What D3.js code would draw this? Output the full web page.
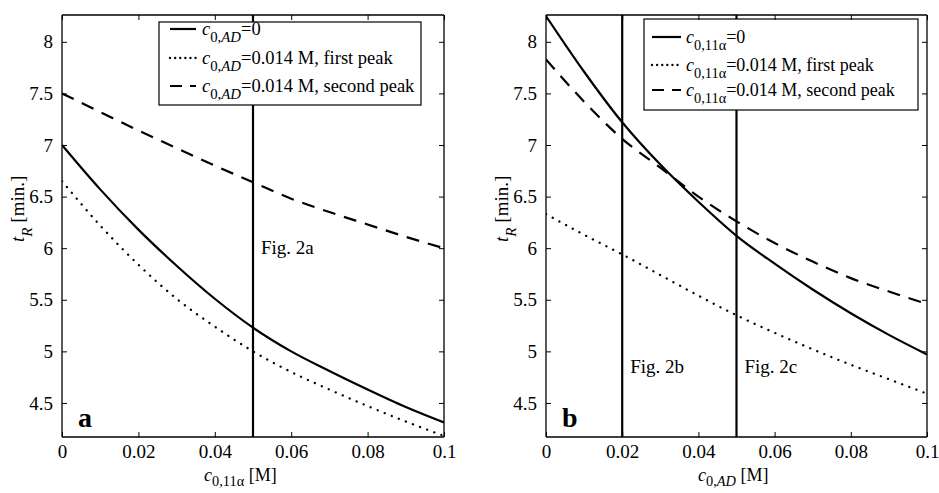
<!DOCTYPE html>
<html><head><meta charset="utf-8">
<script src="https://cdn.jsdelivr.net/npm/d3@7"></script>
<style>
body{margin:0;background:#fff}
text{font-family:"Liberation Serif","Times New Roman",serif;fill:#000}
</style>
</head><body>
<svg id="c" width="939" height="493"></svg>
<script>
// ---- data ----
const xValues = [0, 0.01, 0.02, 0.03, 0.04, 0.05, 0.06, 0.07, 0.08, 0.09, 0.1];
// panel a: x = c0,11alpha
const aSolid  = [7.00, 6.57, 6.18, 5.83, 5.51, 5.23, 5.00, 4.81, 4.63, 4.46, 4.31];
const aDotted = [6.65, 6.22, 5.84, 5.51, 5.24, 5.00, 4.80, 4.63, 4.47, 4.32, 4.18];
const aDashed = [7.50, 7.32, 7.14, 6.97, 6.80, 6.64, 6.48, 6.35, 6.23, 6.11, 6.00];
// panel b: x = c0,AD
const bSolid  = [8.25, 7.71, 7.22, 6.81, 6.45, 6.12, 5.85, 5.60, 5.37, 5.16, 4.97];
const bDotted = [6.33, 6.13, 5.94, 5.74, 5.54, 5.35, 5.18, 5.02, 4.87, 4.73, 4.59];
const bDashed = [7.83, 7.42, 7.06, 6.78, 6.50, 6.26, 6.05, 5.87, 5.71, 5.58, 5.46];
const aMarkers = [0.05];
const bMarkers = [0.02, 0.05];
const aMarkerLabels = ["Fig. 2a"];
const bMarkerLabels = ["Fig. 2b", "Fig. 2c"];
const xTicks = [0, 0.02, 0.04, 0.06, 0.08, 0.1];
const xTickLabels = ["0", "0.02", "0.04", "0.06", "0.08", "0.1"];
const yTicks = [4.5, 5, 5.5, 6, 6.5, 7, 7.5, 8];
const yTickLabels = ["4.5", "5", "5.5", "6", "6.5", "7", "7.5", "8"];
const xDomain = [0, 0.1];
const yDomain = [4.17, 8.26];
const aLegend = ["=0", "=0.014 M, first peak", "=0.014 M, second peak"];
const bLegend = ["=0", "=0.014 M, first peak", "=0.014 M, second peak"];

// ---- drawing ----
const svg = d3.select("#c");
const subA = [{t:"c", i:true}, {t:"0,", sub:true}, {t:"AD", sub:true, i:true}];
const subB = [{t:"c", i:true}, {t:"0,11α", sub:true}];

function rich(sel, parts, fs, drop) {
  drop = drop || 0.4;
  let inSub = false;
  parts.forEach(p => {
    const ts = sel.append("tspan").text(p.t);
    if (p.i) ts.attr("font-style", "italic");
    if (p.sub) {
      ts.attr("font-size", fs * 0.8);
      if (!inSub) { ts.attr("dy", fs * drop); inSub = true; }
    } else if (inSub) {
      ts.attr("dy", -fs * drop); inSub = false;
    }
  });
}

const styles = [
  {dash: null, w: 2.2, cap: "butt"},
  {dash: "0.1,7.5", w: 2.3, cap: "round"},
  {dash: "13,9", w: 2.2, cap: "butt"}
];
const legDash = [null, "0.1,5", "12,8"];

const panels = [
  {x0: 62, x1: 444, series: [aSolid, aDotted, aDashed], markers: aMarkers, mlabels: aMarkerLabels,
   mlabelY: [5.94], letter: "a", legend: aLegend, legSub: subA, xlabSub: subB,
   leg: {x: 159, y: 22, w: 262, h: 83, lx0: 170, lx1: 196, tx: 202, rows: [35, 64, 92], fs: 18.5},
   ylabX: 24, xlabX: 204},
  {x0: 546, x1: 927, series: [bSolid, bDotted, bDashed], markers: bMarkers, mlabels: bMarkerLabels,
   mlabelY: [4.79, 4.79], letter: "b", legend: bLegend, legSub: subB, xlabSub: subA,
   leg: {x: 644, y: 19, w: 274, h: 91, lx0: 652, lx1: 681, tx: 686, rows: [43, 71, 96], fs: 18},
   ylabX: 508, xlabX: 698}
];

const plotTop = 15, plotBottom = 437;

panels.forEach((p, pi) => {
  const x = d3.scaleLinear().domain(xDomain).range([p.x0, p.x1]);
  const y = d3.scaleLinear().domain(yDomain).range([plotBottom, plotTop]);
  const g = svg.append("g");
  const cid = "clip" + pi;
  g.append("clipPath").attr("id", cid).append("rect")
    .attr("x", p.x0).attr("y", plotTop).attr("width", p.x1 - p.x0).attr("height", plotBottom - plotTop);

  const line = d3.line().x((d, i) => x(xValues[i])).y(d => y(d)).curve(d3.curveMonotoneX);
  const cg = g.append("g").attr("clip-path", `url(#${cid})`);
  p.series.forEach((s, si) => {
    cg.append("path").attr("d", line(s)).attr("fill", "none").attr("stroke", "#000")
      .attr("stroke-width", styles[si].w)
      .attr("stroke-dasharray", styles[si].dash)
      .attr("stroke-linecap", styles[si].cap);
  });
  p.markers.forEach((m, mi) => {
    cg.append("line").attr("x1", x(m)).attr("x2", x(m)).attr("y1", y(yDomain[0])).attr("y2", y(yDomain[1]))
      .attr("stroke", "#000").attr("stroke-width", 2.2);
    g.append("text").attr("x", x(m) + 8).attr("y", y(p.mlabelY[mi])).attr("font-size", 19).text(p.mlabels[mi]);
  });

  // legend
  const L = p.leg;
  const lg = g.append("g");
  lg.append("rect").attr("x", L.x).attr("y", L.y).attr("width", L.w).attr("height", L.h)
    .attr("fill", "#fff").attr("stroke", "#000").attr("stroke-width", 1.2);
  p.legend.forEach((lab, li) => {
    const ly = L.rows[li] - 6;
    lg.append("line").attr("x1", L.lx0).attr("x2", L.lx1).attr("y1", ly).attr("y2", ly)
      .attr("stroke", "#000").attr("stroke-width", styles[li].w)
      .attr("stroke-dasharray", legDash[li])
      .attr("stroke-linecap", styles[li].cap);
    const t = lg.append("text").attr("x", L.tx).attr("y", L.rows[li]).attr("font-size", L.fs);
    rich(t, p.legSub.concat([{t: lab}]), L.fs);
  });

  // axes (inward ticks on all sides)
  const fmtX = d => xTickLabels[xTicks.indexOf(d)];
  const fmtY = d => yTickLabels[yTicks.indexOf(d)];
  const axB = g.append("g").attr("transform", `translate(0,${plotBottom})`)
    .call(d3.axisBottom(x).tickValues(xTicks).tickFormat(fmtX).tickSize(-5).tickPadding(8));
  const axT = g.append("g").attr("transform", `translate(0,${plotTop})`)
    .call(d3.axisTop(x).tickValues(xTicks).tickFormat("").tickSize(-5));
  const axL = g.append("g").attr("transform", `translate(${p.x0},0)`)
    .call(d3.axisLeft(y).tickValues(yTicks).tickFormat(fmtY).tickSize(-5).tickPadding(9));
  const axR = g.append("g").attr("transform", `translate(${p.x1},0)`)
    .call(d3.axisRight(y).tickValues(yTicks).tickFormat("").tickSize(-5));
  [axB, axT, axL, axR].forEach(a => {
    a.select(".domain").attr("stroke", "#000").attr("stroke-width", 1.3);
    a.selectAll(".tick line").attr("stroke", "#000").attr("stroke-width", 1);
    a.selectAll("text").attr("font-family", "Liberation Serif").attr("font-size", 19).attr("fill", "#000");
  });
  axB.select(".domain").attr("d", `M${p.x0},0H${p.x1}`);
  axT.select(".domain").attr("d", `M${p.x0},0H${p.x1}`);
  axL.select(".domain").attr("d", `M0,${plotTop}V${plotBottom}`);
  axR.select(".domain").attr("d", `M0,${plotTop}V${plotBottom}`);

  // panel letter
  g.append("text").attr("x", p.x0 + 16).attr("y", 427).attr("font-size", 28).attr("font-weight", "bold").text(p.letter);

  // y label
  const yl = g.append("text").attr("transform", `translate(${p.ylabX},242) rotate(-90)`).attr("font-size", 19);
  rich(yl, [{t:"t", i:true}, {t:"R", sub:true, i:true}, {t:" [min.]"}], 19);

  // x label
  const xl = g.append("text").attr("x", p.xlabX).attr("y", 481).attr("font-size", 18);
  rich(xl, p.xlabSub.concat([{t:" [M]"}]), 18, 0.3);
});
</script>
</body></html>
